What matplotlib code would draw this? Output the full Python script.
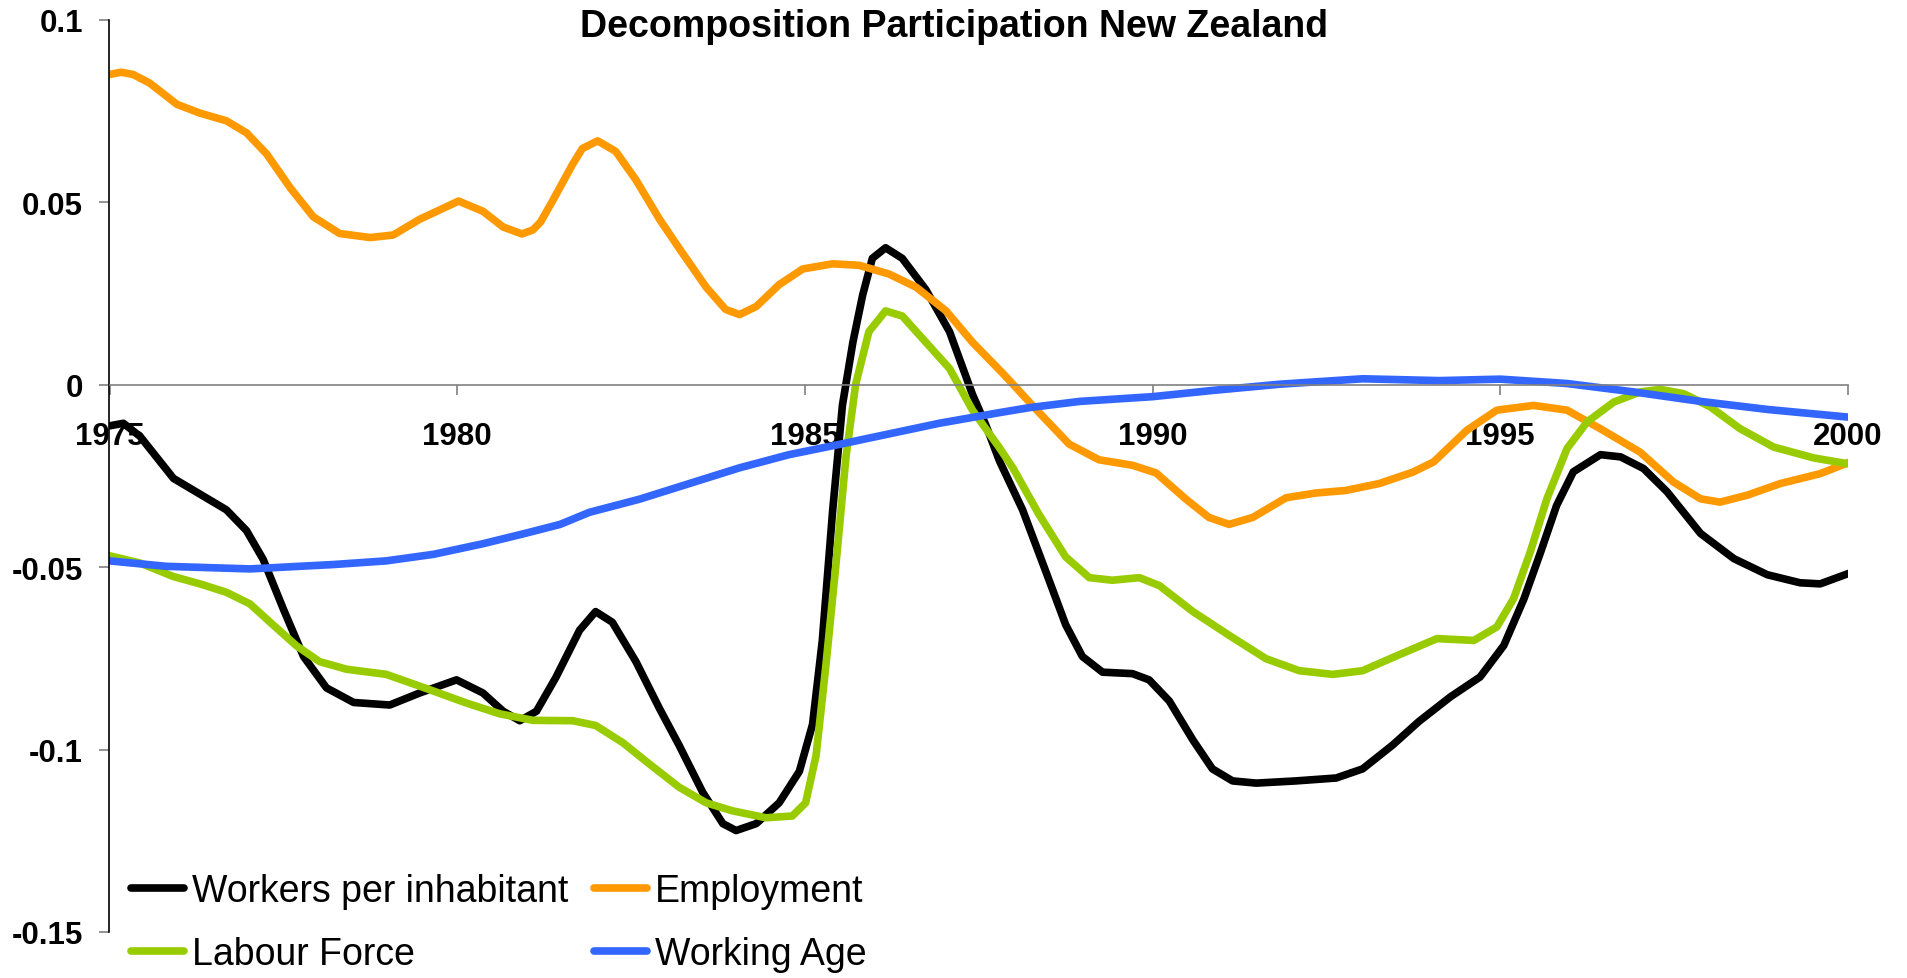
import matplotlib
matplotlib.use("Agg")
import matplotlib.pyplot as plt

plt.rcParams['font.family'] = ['Liberation Sans', 'DejaVu Sans']

title = "Decomposition Participation New Zealand"

emp_x = [1975.00, 1975.17, 1975.34, 1975.58, 1975.97, 1976.30, 1976.68, 1976.97, 1977.26, 1977.60,
         1977.93, 1978.31, 1978.75, 1979.08, 1979.46, 1980.02, 1980.37, 1980.66, 1980.93, 1981.09,
         1981.20, 1981.37, 1981.66, 1981.80, 1982.02, 1982.28, 1982.57, 1982.91, 1983.19, 1983.58,
         1983.86, 1984.06, 1984.30, 1984.63, 1984.97, 1985.40, 1985.78, 1986.21, 1986.60, 1987.03,
         1987.41, 1987.85, 1988.37, 1988.80, 1989.23, 1989.71, 1990.05, 1990.48, 1990.81, 1991.10,
         1991.44, 1991.92, 1992.35, 1992.78, 1993.26, 1993.74, 1994.04, 1994.52, 1994.95, 1995.48,
         1995.96, 1996.44, 1997.01, 1997.49, 1997.88, 1998.16, 1998.55, 1999.03, 1999.60, 2000.00]
emp_y = [0.0850, 0.0856, 0.0850, 0.0826, 0.0768, 0.0744, 0.0723, 0.0690, 0.0632, 0.0539,
         0.0460, 0.0414, 0.0403, 0.0410, 0.0453, 0.0503, 0.0475, 0.0432, 0.0413, 0.0424,
         0.0446, 0.0503, 0.0604, 0.0647, 0.0668, 0.0639, 0.0561, 0.0453, 0.0374, 0.0267,
         0.0206, 0.0192, 0.0214, 0.0274, 0.0317, 0.0331, 0.0327, 0.0303, 0.0267, 0.0202,
         0.0116, 0.0030, -0.0077, -0.0163, -0.0206, -0.0221, -0.0242, -0.0314, -0.0364, -0.0383,
         -0.0364, -0.0310, -0.0297, -0.0290, -0.0271, -0.0240, -0.0212, -0.0125, -0.0070, -0.0057,
         -0.0070, -0.0121, -0.0185, -0.0267, -0.0313, -0.0322, -0.0303, -0.0271, -0.0244, -0.0214]

wpi_x = [1975.00, 1975.20, 1975.44, 1975.92, 1976.30, 1976.68, 1976.97, 1977.21, 1977.50, 1977.79,
         1978.12, 1978.51, 1979.03, 1979.46, 1979.99, 1980.37, 1980.66, 1980.90, 1981.14, 1981.42,
         1981.76, 1981.99, 1982.23, 1982.57, 1982.91, 1983.19, 1983.53, 1983.82, 1984.01, 1984.30,
         1984.63, 1984.92, 1985.11, 1985.25, 1985.40, 1985.54, 1985.69, 1985.83, 1985.97, 1986.16,
         1986.40, 1986.74, 1987.08, 1987.41, 1987.60, 1987.80, 1988.13, 1988.47, 1988.75, 1988.99,
         1989.28, 1989.71, 1989.95, 1990.24, 1990.58, 1990.86, 1991.15, 1991.49, 1992.06, 1992.64,
         1993.02, 1993.45, 1993.83, 1994.28, 1994.71, 1995.05, 1995.34, 1995.58, 1995.81, 1996.05,
         1996.44, 1996.73, 1997.06, 1997.40, 1997.88, 1998.36, 1998.84, 1999.31, 1999.60, 2000.00]
wpi_y = [-0.0113, -0.0106, -0.0142, -0.0257, -0.0300, -0.0343, -0.0400, -0.0479, -0.0615, -0.0745,
         -0.0831, -0.0871, -0.0878, -0.0845, -0.0809, -0.0845, -0.0895, -0.0921, -0.0895, -0.0802,
         -0.0673, -0.0622, -0.0651, -0.0759, -0.0888, -0.0988, -0.1117, -0.1203, -0.1222, -0.1203,
         -0.1146, -0.1060, -0.0931, -0.0702, -0.0343, -0.0056, 0.0116, 0.0245, 0.0346, 0.0375,
         0.0346, 0.0260, 0.0145, -0.0027, -0.0110, -0.0210, -0.0343, -0.0515, -0.0658, -0.0745,
         -0.0788, -0.0792, -0.0809, -0.0867, -0.0974, -0.1053, -0.1086, -0.1092, -0.1086, -0.1078,
         -0.1053, -0.0988, -0.0923, -0.0856, -0.0801, -0.0715, -0.0587, -0.0459, -0.0331, -0.0239,
         -0.0192, -0.0198, -0.0230, -0.0294, -0.0408, -0.0477, -0.0521, -0.0543, -0.0546, -0.0518]

lab_x = [1975.00, 1975.44, 1975.92, 1976.30, 1976.68, 1977.02, 1977.35, 1977.69, 1978.02, 1978.41,
         1978.98, 1979.56, 1980.14, 1980.61, 1981.09, 1981.66, 1981.99, 1982.38, 1982.76, 1983.19,
         1983.58, 1983.96, 1984.44, 1984.82, 1985.01, 1985.16, 1985.30, 1985.45, 1985.59, 1985.73,
         1985.92, 1986.16, 1986.40, 1986.74, 1987.08, 1987.41, 1987.79, 1987.99, 1988.37, 1988.75,
         1989.09, 1989.42, 1989.81, 1990.10, 1990.58, 1991.10, 1991.63, 1992.11, 1992.59, 1993.02,
         1993.50, 1994.09, 1994.62, 1994.95, 1995.19, 1995.43, 1995.67, 1995.96, 1996.25, 1996.63,
         1997.01, 1997.30, 1997.64, 1998.02, 1998.45, 1998.93, 1999.51, 2000.00]
lab_y = [-0.0469, -0.0489, -0.0526, -0.0546, -0.0569, -0.0601, -0.0658, -0.0716, -0.0759, -0.0780,
         -0.0794, -0.0833, -0.0873, -0.0902, -0.0920, -0.0921, -0.0934, -0.0981, -0.1039, -0.1103,
         -0.1146, -0.1168, -0.1187, -0.1182, -0.1146, -0.1017, -0.0773, -0.0486, -0.0199, 0.0001,
         0.0145, 0.0202, 0.0188, 0.0116, 0.0044, -0.0070, -0.0171, -0.0228, -0.0357, -0.0472,
         -0.0529, -0.0536, -0.0529, -0.0551, -0.0622, -0.0687, -0.0751, -0.0784, -0.0794, -0.0784,
         -0.0744, -0.0696, -0.0701, -0.0664, -0.0587, -0.0459, -0.0313, -0.0175, -0.0102, -0.0048,
         -0.0020, -0.0013, -0.0025, -0.0061, -0.0121, -0.0171, -0.0201, -0.0217]

wa_x = [1975.00, 1975.82, 1977.02, 1978.22, 1978.98, 1979.66, 1980.37, 1980.99, 1981.48, 1981.90,
        1982.62, 1983.34, 1984.06, 1984.77, 1985.49, 1986.21, 1986.93, 1987.79, 1988.23, 1988.95,
        1990.00, 1990.86, 1991.82, 1993.02, 1994.12, 1995.00, 1995.96, 1996.92, 1997.88, 1998.84,
        2000.00]
wa_y = [-0.0483, -0.0498, -0.0505, -0.0493, -0.0483, -0.0465, -0.0436, -0.0407, -0.0383, -0.0350,
        -0.0314, -0.0271, -0.0228, -0.0192, -0.0164, -0.0135, -0.0106, -0.0077, -0.0063, -0.0046,
        -0.0033, -0.0016, 0.0001, 0.0016, 0.0011, 0.0015, 0.0003, -0.0020, -0.0046, -0.0068,
        -0.0089]

x_ticks = [1975, 1980, 1985, 1990, 1995, 2000]
x_tick_labels = ["1975", "1980", "1985", "1990", "1995", "2000"]
y_ticks = [0.1, 0.05, 0.0, -0.05, -0.1, -0.15]
y_tick_labels = ["0.1", "0.05", "0", "-0.05", "-0.1", "-0.15"]

W, H = 1908, 979
fig = plt.figure(figsize=(W / 100, H / 100), dpi=100)
ax = fig.add_axes([109.5 / W, 46 / H, (1848 - 109.5) / W, (933 - 20.7) / H])

lw = 5.5
ax.plot(wpi_x, wpi_y, color="#000000", lw=lw, solid_joinstyle="round", label="Workers per inhabitant")
ax.plot(emp_x, emp_y, color="#FF9900", lw=lw, solid_joinstyle="round", label="Employment")
ax.plot(lab_x, lab_y, color="#99CC00", lw=lw, solid_joinstyle="round", label="Labour Force")
ax.plot(wa_x, wa_y, color="#3366FF", lw=lw, solid_joinstyle="round", label="Working Age")

ax.set_xlim(1975, 2000)
ax.set_ylim(-0.15, 0.1)

for s in ["top", "right"]:
    ax.spines[s].set_visible(False)
ax.spines["bottom"].set_position(("data", 0))
ax.spines["bottom"].set_color("#808080")
ax.spines["bottom"].set_linewidth(1.2)
ax.spines["left"].set_color("#000000")
ax.spines["left"].set_linewidth(1.2)

ax.set_xticks(x_ticks)
ax.set_xticklabels(x_tick_labels, fontsize=22.5, fontweight="bold")
ax.set_yticks(y_ticks)
ax.set_yticklabels(y_tick_labels, fontsize=22.5, fontweight="bold")
ax.tick_params(axis="x", direction="out", length=7, width=1.2, color="#808080", pad=19)
ax.tick_params(axis="y", direction="out", length=7, width=1.2, color="#808080", pad=12)

fig.text(0.5, 1 - 27 / H, title, ha="center", va="center", fontsize=27, fontweight="bold")

h, l = ax.get_legend_handles_labels()
order = [0, 2, 1, 3]
leg = fig.legend([h[i] for i in order], [l[i] for i in order], loc="upper left",
                 bbox_to_anchor=(131 / W, 1 - 874 / H), ncol=2, frameon=False, fontsize=27,
                 borderpad=0, borderaxespad=0, handlelength=1.4, handletextpad=0.22,
                 columnspacing=0.7, labelspacing=0.72)
for line in leg.get_lines():
    line.set_solid_capstyle("round")

fig.savefig("out.png", dpi=100)
